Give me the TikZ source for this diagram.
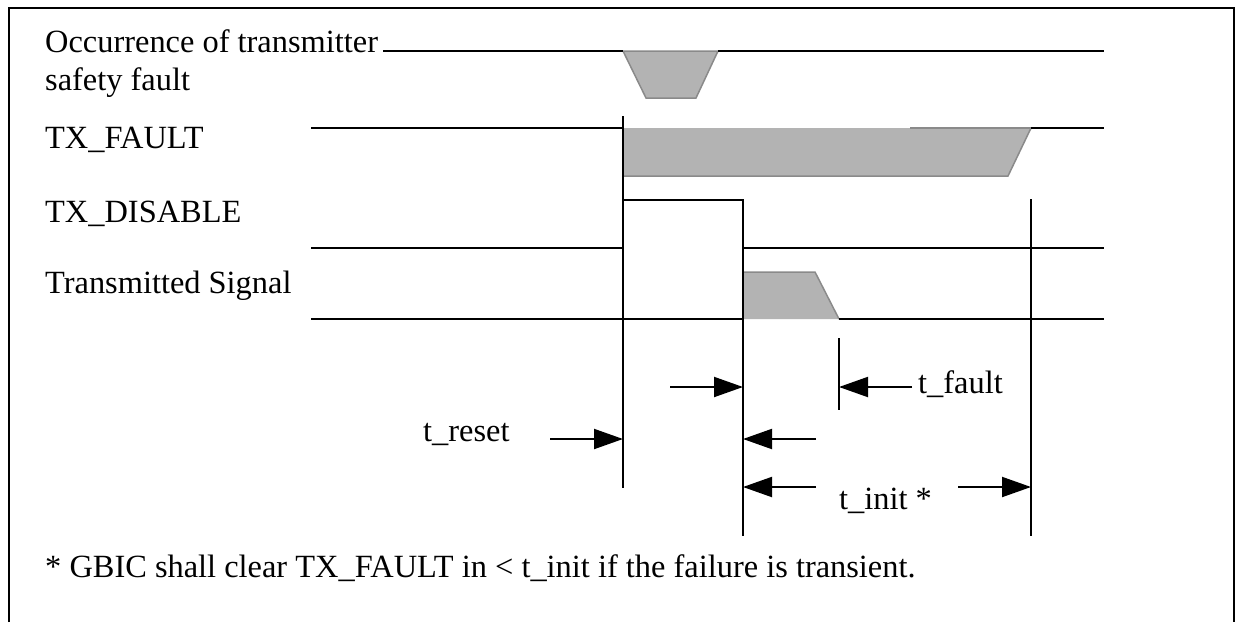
\documentclass[tikz,border=0pt]{standalone}
\usepackage{fontspec}
\setmainfont{Liberation Serif}
\usetikzlibrary{arrows.meta}
\definecolor{fillgray}{HTML}{B3B3B3}
\definecolor{edgegray}{HTML}{8A8A8A}
\tikzset{
  sig/.style={line width=2pt, black},
  frameline/.style={line width=2.5pt, black},
  lbl/.style={anchor=base west, inner sep=0pt, font=\fontsize{32.4}{38}\selectfont},
  shade/.style={fill=fillgray, draw=none},
  shedge/.style={draw=edgegray, line width=1.5pt},
  dimarrow/.style={line width=2pt, -{Triangle[length=29pt,width=20pt]}},
}
\begin{document}
\begin{tikzpicture}[x=1pt,y=-1pt]
\useasboundingbox (0,0) rectangle (1236,622);
% frame (open at bottom)
\draw[frameline] (9,622) -- (9,8) -- (1234,8) -- (1234,622);

% labels
\node[lbl] (occ1) at (45,52) {Occurrence of transmitter};
\node[lbl] (occ2) at (45,90) {safety fault};
\node[lbl] (txf) at (45,148) {TX\_FAULT};
\node[lbl] (txd) at (45,222) {TX\_DISABLE};
\node[lbl] (trs) at (45,293) {Transmitted Signal};

% gray regions
\fill[shade] (623,51) -- (718,51) -- (696,98) -- (646,98) -- cycle;
\draw[shedge] (623,51) -- (646,98) -- (696,98) -- (718,51) -- cycle;
\fill[shade] (623,128) -- (1031,128) -- (1008,176) -- (623,176) -- cycle;
\draw[shedge] (623,176) -- (1008,176) -- (1031,128);
\draw[shedge] (910,128) -- (1031,128);
\fill[shade] (743,272) -- (815,272) -- (839,319) -- (743,319) -- cycle;
\draw[shedge] (743,319) -- (743,272) -- (815,272) -- (839,319);

% signal lines
\draw[sig] (383,51) -- (623,51);
\draw[sig] (718,51) -- (1104,51);
\draw[sig] (311,128) -- (623,128);
\draw[sig] (1031,128) -- (1104,128);
\draw[sig] (311,248) -- (623,248);
\draw[sig] (623,200) -- (743,200) -- (743,248) -- (1104,248);
\draw[sig] (311,319) -- (743,319);
\draw[sig] (839,319) -- (1104,319);

% vertical markers
\coordinate (v1t) at (623,116); \coordinate (v1b) at (623,488);
\coordinate (v2t) at (743,200); \coordinate (v2b) at (743,536);
\coordinate (v3t) at (839,338); \coordinate (v3b) at (839,410);
\coordinate (v4t) at (1031,199); \coordinate (v4b) at (1031,536);
\draw[sig] (v1t) -- (v1b);
\draw[sig] (v2t) -- (v2b);
\draw[sig] (v3t) -- (v3b);
\draw[sig] (v4t) -- (v4b);

% arrows
\coordinate (a1s) at (670,387); \coordinate (a1e) at (743,387);
\coordinate (a2s) at (912,387); \coordinate (a2e) at (839,387);
\coordinate (a3s) at (550,439); \coordinate (a3e) at (623,439);
\coordinate (a4s) at (816,439); \coordinate (a4e) at (743,439);
\coordinate (a5s) at (816,487); \coordinate (a5e) at (743,487);
\coordinate (a6s) at (958,487); \coordinate (a6e) at (1031,487);
\draw[dimarrow] (a1s) -- (a1e);
\draw[dimarrow] (a2s) -- (a2e);
\draw[dimarrow] (a3s) -- (a3e);
\draw[dimarrow] (a4s) -- (a4e);
\draw[dimarrow] (a5s) -- (a5e);
\draw[dimarrow] (a6s) -- (a6e);

\node[lbl] (tfault) at (918,393) {t\_fault};
\node[lbl] (treset) at (423,441) {t\_reset};
\node[lbl] (tinit) at (839,509) {t\_init *};
\node[lbl] (note) at (45,577) {* GBIC shall clear TX\_FAULT in < t\_init if the failure is transient.};
\end{tikzpicture}
\end{document}
